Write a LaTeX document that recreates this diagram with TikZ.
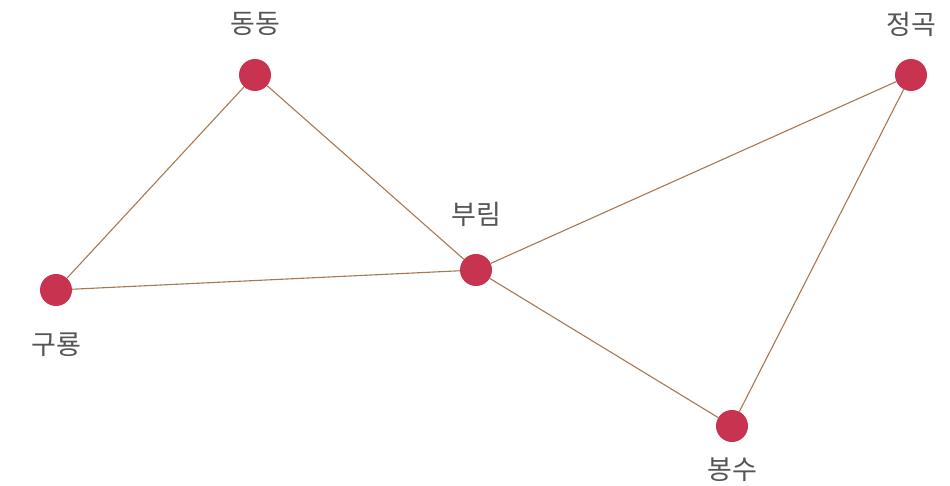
\documentclass[tikz,border=0pt]{standalone}
\usepackage{fontspec}
\newfontfamily\kr{Noto Sans CJK KR}
\usepackage{tikz}
\usetikzlibrary{positioning}
\definecolor{dotRed}{HTML}{C8344F}
\definecolor{linkBrown}{HTML}{A87850}
\definecolor{labelGray}{HTML}{555555}
\tikzset{
	town/.style={circle, fill=dotRed, inner sep=0pt, minimum size=32pt},
	tname/.style={text=labelGray, font=\kr\fontsize{27}{32}\selectfont, inner sep=0pt},
	link/.style={draw=linkBrown, line width=1.1pt}
}

\begin{document}
\begin{tikzpicture}[x=1pt, y=-1pt]

	\useasboundingbox (0,0) rectangle (950,486);

	\node[town] (dongdong) at (255,75) {};
	\node[town] (jeonggok) at (911,75) {};
	\node[town] (burim) at (476,270) {};
	\node[town] (guryong) at (56,290) {};
	\node[town] (bongsu) at (732,426) {};

	\node[tname] (dongdongL) at (255,24) {동동};
	\node[tname] (jeonggokL) at (911,24) {정곡};
	\node[tname] (burimL) at (476,214) {부림};
	\node[tname] (guryongL) at (56,345) {구룡};
	\node[tname] (bongsuL) at (732,470) {봉수};

	\begin{scope}[on background layer/.try]
	\draw[link] (dongdong) -- (guryong);
	\draw[link] (dongdong) -- (burim);
	\draw[link] (guryong) -- (burim);
	\draw[link] (burim) -- (jeonggok);
	\draw[link] (burim) -- (bongsu);
	\draw[link] (jeonggok) -- (bongsu);
	\end{scope}

\end{tikzpicture}
\end{document}
